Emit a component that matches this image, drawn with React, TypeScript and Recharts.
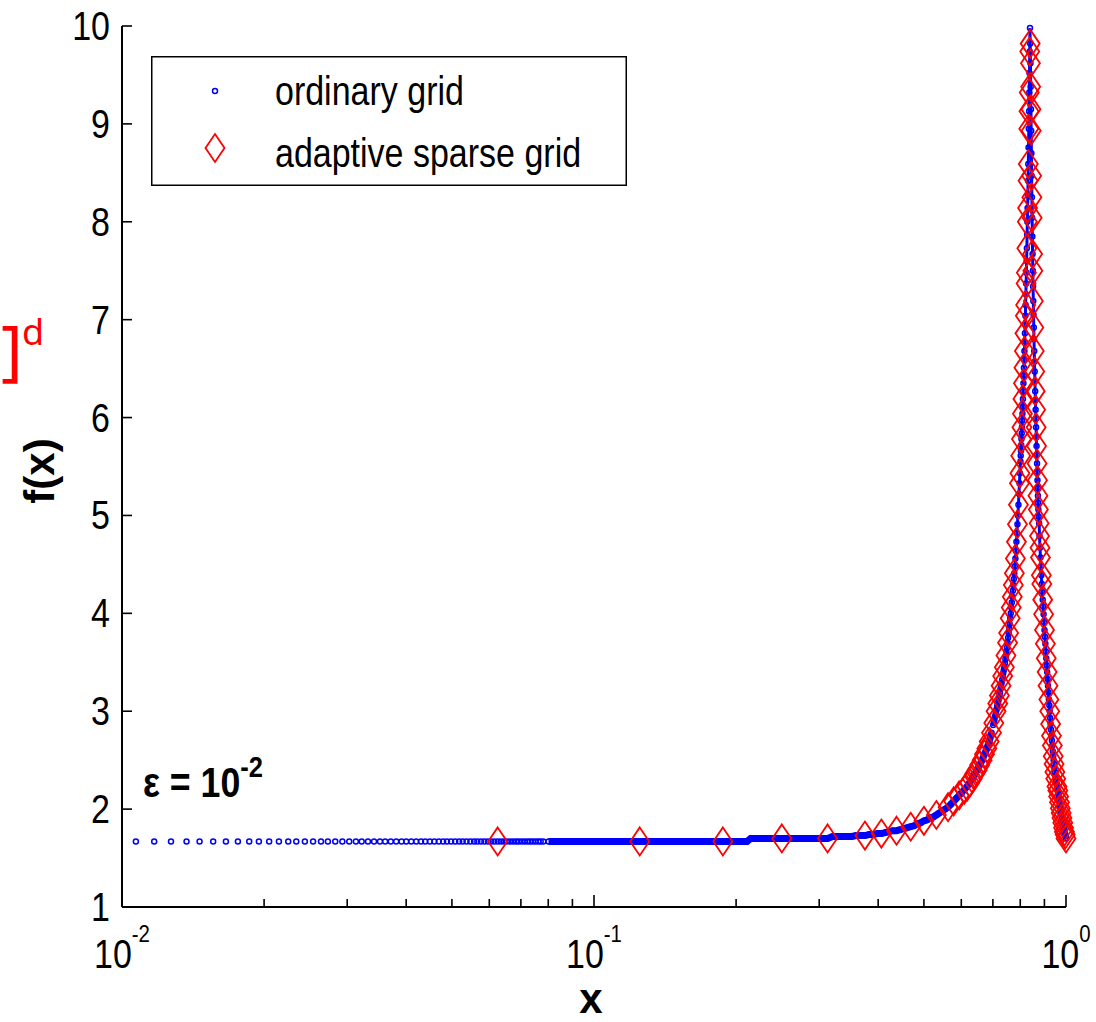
import React from "react";
import { ScatterChart, Scatter, XAxis, YAxis, Legend } from "recharts";

// ordinary grid, sparse part on the left (single circles visible)
const ordinaryTail: [number, number][] = [
  [0.0107, 1.67], [0.0117, 1.67], [0.0127, 1.67], [0.0137, 1.67], [0.0146, 1.67], [0.0156, 1.67],
  [0.0166, 1.67], [0.0176, 1.67], [0.0186, 1.67], [0.0195, 1.67], [0.0205, 1.67], [0.0215, 1.67],
  [0.0225, 1.67], [0.0234, 1.67], [0.0244, 1.67], [0.0254, 1.67], [0.0264, 1.67], [0.0273, 1.67],
  [0.0283, 1.67], [0.0293, 1.67], [0.0303, 1.67], [0.0313, 1.67], [0.0322, 1.67], [0.0332, 1.67],
  [0.0342, 1.67], [0.0352, 1.67], [0.0361, 1.67], [0.0371, 1.67], [0.0381, 1.67], [0.0391, 1.67],
  [0.0400, 1.67], [0.0410, 1.67], [0.0420, 1.67], [0.0430, 1.67], [0.0439, 1.67], [0.0449, 1.67],
  [0.0459, 1.67], [0.0469, 1.67], [0.0479, 1.67], [0.0488, 1.67], [0.0498, 1.67], [0.0508, 1.67],
  [0.0518, 1.67], [0.0527, 1.67], [0.0537, 1.67], [0.0547, 1.67], [0.0557, 1.67], [0.0566, 1.67],
  [0.0576, 1.67], [0.0586, 1.67], [0.0596, 1.67], [0.0605, 1.67], [0.0615, 1.67], [0.0625, 1.67],
  [0.0635, 1.67], [0.0645, 1.67], [0.0654, 1.67], [0.0664, 1.67], [0.0674, 1.67], [0.0684, 1.67],
  [0.0693, 1.67], [0.0703, 1.67], [0.0713, 1.67], [0.0723, 1.67], [0.0732, 1.67], [0.0742, 1.67],
  [0.0752, 1.67], [0.0762, 1.67], [0.0771, 1.67], [0.0781, 1.67],
];

// ordinary grid, dense flat band
const ordinaryBand: [number, number][] = [
  [0.0801, 1.67], [0.0820, 1.67], [0.0840, 1.67], [0.0859, 1.67], [0.0879, 1.67], [0.0898, 1.67],
  [0.0918, 1.67], [0.0938, 1.67], [0.0957, 1.67], [0.0977, 1.67], [0.0996, 1.67], [0.1016, 1.67],
  [0.1035, 1.67], [0.1055, 1.67], [0.1074, 1.67], [0.1094, 1.67], [0.1113, 1.67], [0.1133, 1.67],
  [0.1152, 1.67], [0.1172, 1.67], [0.1191, 1.67], [0.1211, 1.67], [0.1230, 1.67], [0.1250, 1.67],
  [0.1270, 1.67], [0.1289, 1.67], [0.1309, 1.67], [0.1328, 1.67], [0.1348, 1.67], [0.1367, 1.67],
  [0.1387, 1.67], [0.1406, 1.67], [0.1426, 1.67], [0.1445, 1.67], [0.1465, 1.67], [0.1484, 1.67],
  [0.1504, 1.67], [0.1523, 1.67], [0.1543, 1.67], [0.1563, 1.67], [0.1582, 1.67], [0.1602, 1.67],
  [0.1621, 1.67], [0.1641, 1.67], [0.1660, 1.67], [0.1680, 1.67], [0.1699, 1.67], [0.1719, 1.67],
  [0.1738, 1.67], [0.1758, 1.67], [0.1777, 1.67], [0.1797, 1.67], [0.1816, 1.67], [0.1836, 1.67],
  [0.1855, 1.67], [0.1875, 1.67], [0.1895, 1.67], [0.1914, 1.67], [0.1934, 1.67], [0.1953, 1.67],
  [0.1973, 1.67], [0.1992, 1.67], [0.2031, 1.67], [0.2070, 1.67], [0.2109, 1.67], [0.2148, 1.70],
  [0.2188, 1.70], [0.2227, 1.70], [0.2266, 1.70], [0.2305, 1.70], [0.2344, 1.70], [0.2383, 1.70],
  [0.2422, 1.70], [0.2461, 1.70], [0.2500, 1.70], [0.2539, 1.70], [0.2578, 1.70], [0.2617, 1.70],
  [0.2656, 1.70], [0.2695, 1.70], [0.2734, 1.70], [0.2773, 1.70], [0.2813, 1.70], [0.2852, 1.70],
  [0.2891, 1.70], [0.2930, 1.70], [0.2969, 1.70], [0.3008, 1.70], [0.3047, 1.70], [0.3086, 1.70],
  [0.3125, 1.70], [0.3203, 1.72], [0.3281, 1.72], [0.3359, 1.72], [0.3438, 1.72], [0.3516, 1.72],
  [0.3594, 1.73], [0.3672, 1.73], [0.3750, 1.73], [0.3828, 1.74], [0.3906, 1.74], [0.3984, 1.75],
  [0.4063, 1.75], [0.4141, 1.76], [0.4219, 1.77], [0.4297, 1.78], [0.4375, 1.78], [0.4453, 1.79],
  [0.4531, 1.80], [0.4609, 1.81], [0.4688, 1.82], [0.4766, 1.83], [0.4844, 1.85], [0.4922, 1.86],
  [0.5000, 1.88], [0.5078, 1.89], [0.5156, 1.91], [0.5234, 1.92], [0.5313, 1.94], [0.5391, 1.96],
  [0.5469, 1.98], [0.5547, 2.00], [0.5625, 2.02], [0.5703, 2.05], [0.5781, 2.08], [0.5859, 2.11],
  [0.5938, 2.14], [0.6016, 2.17], [0.6094, 2.20], [0.6172, 2.23], [0.6250, 2.27], [0.6328, 2.31],
  [0.6406, 2.36], [0.6484, 2.40], [0.6563, 2.45], [0.6641, 2.50], [0.6719, 2.56], [0.6797, 2.62],
  [0.6875, 2.69], [0.6953, 2.78],
];

// ordinary grid, rising flank and peak
const ordinaryPeak: [number, number][] = [
  [0.7012, 2.86], [0.7031, 2.88], [0.7051, 2.91], [0.7070, 2.94], [0.7090, 2.97], [0.7109, 3.00],
  [0.7129, 3.02], [0.7148, 3.05], [0.7168, 3.08], [0.7188, 3.10], [0.7207, 3.13], [0.7227, 3.16],
  [0.7246, 3.19], [0.7266, 3.23], [0.7285, 3.26], [0.7305, 3.29], [0.7324, 3.32], [0.7344, 3.36],
  [0.7363, 3.39], [0.7383, 3.42], [0.7402, 3.45], [0.7422, 3.49], [0.7441, 3.53], [0.7461, 3.57],
  [0.7480, 3.61], [0.7500, 3.65], [0.7520, 3.70], [0.7539, 3.75], [0.7559, 3.80], [0.7578, 3.84],
  [0.7598, 3.89], [0.7617, 3.95], [0.7637, 4.00], [0.7656, 4.06], [0.7676, 4.11], [0.7695, 4.17],
  [0.7715, 4.23], [0.7734, 4.29], [0.7754, 4.35], [0.7773, 4.41], [0.7793, 4.48], [0.7813, 4.56],
  [0.7832, 4.64], [0.7852, 4.73], [0.7871, 4.82], [0.7891, 4.91], [0.7910, 5.00], [0.7930, 5.11],
  [0.7949, 5.22], [0.7969, 5.33], [0.7988, 5.43],
  [0.8008, 5.55], [0.8018, 5.61], [0.8027, 5.66], [0.8037, 5.72], [0.8047, 5.78], [0.8057, 5.84],
  [0.8066, 5.90], [0.8076, 5.97], [0.8086, 6.04], [0.8096, 6.11], [0.8105, 6.19], [0.8115, 6.27],
  [0.8125, 6.35], [0.8135, 6.43], [0.8145, 6.51], [0.8154, 6.59], [0.8164, 6.68], [0.8174, 6.77],
  [0.8184, 6.86], [0.8193, 6.95], [0.8203, 7.04], [0.8213, 7.15], [0.8223, 7.26], [0.8232, 7.37],
  [0.8242, 7.48], [0.8252, 7.60], [0.8262, 7.73], [0.8271, 7.87], [0.8281, 8.00], [0.8291, 8.14],
  [0.8301, 8.27], [0.8311, 8.42], [0.8320, 8.59], [0.8330, 8.76], [0.8340, 8.95], [0.8350, 9.13],
  [0.8359, 9.32], [0.8369, 9.52], [0.8379, 9.74], [0.8389, 9.98], [0.8398, 9.82], [0.8408, 9.62],
  [0.8418, 9.38], [0.8428, 9.15], [0.8438, 8.93], [0.8447, 8.70], [0.8457, 8.47], [0.8467, 8.25],
  [0.8477, 8.04], [0.8486, 7.85], [0.8496, 7.67], [0.8506, 7.50], [0.8516, 7.34], [0.8525, 7.19],
  [0.8535, 7.05], [0.8545, 6.92], [0.8555, 6.80], [0.8564, 6.68], [0.8574, 6.57], [0.8584, 6.47],
  [0.8594, 6.37], [0.8604, 6.27], [0.8613, 6.18], [0.8623, 6.08], [0.8633, 5.99], [0.8643, 5.90],
  [0.8652, 5.80], [0.8662, 5.71], [0.8672, 5.62], [0.8682, 5.53], [0.8691, 5.44], [0.8701, 5.36],
  [0.8711, 5.28], [0.8721, 5.20], [0.8730, 5.13], [0.8740, 5.06], [0.8750, 4.99],
];

// ordinary grid, falling flank to x = 1
const ordinaryFall: [number, number][] = [
  [0.8770, 4.92], [0.8789, 4.79], [0.8809, 4.67], [0.8828, 4.57], [0.8848, 4.48], [0.8867, 4.39],
  [0.8887, 4.30], [0.8906, 4.22], [0.8926, 4.14], [0.8945, 4.07], [0.8965, 3.99], [0.8984, 3.91],
  [0.9004, 3.83], [0.9023, 3.76], [0.9043, 3.69], [0.9063, 3.61], [0.9082, 3.54], [0.9102, 3.47],
  [0.9121, 3.40], [0.9141, 3.33], [0.9160, 3.26], [0.9180, 3.19], [0.9199, 3.12], [0.9219, 3.06],
  [0.9238, 3.00], [0.9258, 2.93], [0.9277, 2.87], [0.9297, 2.81], [0.9316, 2.75], [0.9336, 2.70],
  [0.9355, 2.65], [0.9375, 2.59], [0.9395, 2.54], [0.9414, 2.50], [0.9434, 2.46], [0.9453, 2.42],
  [0.9473, 2.38], [0.9492, 2.34], [0.9512, 2.31], [0.9531, 2.28], [0.9551, 2.26], [0.9570, 2.23],
  [0.9590, 2.21], [0.9609, 2.19], [0.9629, 2.16], [0.9648, 2.13], [0.9668, 2.10], [0.9688, 2.07],
  [0.9707, 2.04], [0.9727, 2.01], [0.9746, 1.99], [0.9766, 1.96], [0.9785, 1.93], [0.9805, 1.91],
  [0.9824, 1.88], [0.9844, 1.86], [0.9863, 1.84], [0.9883, 1.81], [0.9902, 1.79], [0.9922, 1.77],
  [0.9941, 1.75], [0.9961, 1.74], [0.9980, 1.72], [1.0, 1.70],
];

// adaptive sparse grid: coarse on the flat part
const adaptiveFlat: [number, number][] = [
  [0.0625, 1.67], [0.125, 1.67], [0.1875, 1.67], [0.25, 1.70], [0.3125, 1.70],
  [0.375, 1.73], [0.4063, 1.75], [0.4375, 1.78], [0.4688, 1.82], [0.5, 1.88], [0.5313, 1.94],
  [0.5625, 2.02], [0.5781, 2.08], [0.5938, 2.14], [0.6094, 2.20], [0.6172, 2.23], [0.625, 2.27],
  [0.6328, 2.31], [0.6406, 2.36], [0.6484, 2.40], [0.6563, 2.45], [0.6641, 2.50], [0.6719, 2.56],
  [0.6797, 2.62], [0.6875, 2.69], [0.6953, 2.78],
];

// adaptive sparse grid: refined around the peak
const adaptivePeak: [number, number][] = [
  [0.7031, 2.88], [0.7109, 3.00], [0.7168, 3.08], [0.7227, 3.16], [0.7285, 3.26], [0.7344, 3.36],
  [0.7402, 3.45], [0.7461, 3.57], [0.7520, 3.70], [0.7559, 3.80], [0.7617, 3.95], [0.7656, 4.06],
  [0.7695, 4.17], [0.7734, 4.29], [0.7773, 4.41], [0.7813, 4.56], [0.7852, 4.73], [0.7891, 4.91],
  [0.7930, 5.11], [0.7969, 5.33], [0.7988, 5.43], [0.8018, 5.61], [0.8047, 5.78], [0.8066, 5.90],
  [0.8086, 6.04], [0.8105, 6.19], [0.8125, 6.35], [0.8145, 6.51], [0.8164, 6.68], [0.8184, 6.86],
  [0.8203, 7.04], [0.8213, 7.15], [0.8232, 7.37], [0.8242, 7.48], [0.8262, 7.73], [0.8281, 8.00],
  [0.8291, 8.14], [0.8311, 8.42], [0.8320, 8.59], [0.8340, 8.95], [0.8350, 9.13], [0.8359, 9.32],
  [0.8379, 9.74], [0.8398, 9.82], [0.8408, 9.62], [0.8418, 9.38], [0.8428, 9.15], [0.8438, 8.93],
  [0.8457, 8.47], [0.8467, 8.25], [0.8477, 8.04], [0.8496, 7.67], [0.8506, 7.50], [0.8525, 7.19],
  [0.8545, 6.92], [0.8564, 6.68], [0.8584, 6.47], [0.8604, 6.27], [0.8623, 6.08], [0.8643, 5.90],
  [0.8662, 5.71], [0.8682, 5.53], [0.8701, 5.36], [0.8721, 5.20], [0.8740, 5.06], [0.8770, 4.92],
  [0.8789, 4.79], [0.8809, 4.67], [0.8828, 4.57], [0.8867, 4.39], [0.8887, 4.30], [0.8926, 4.14],
  [0.8965, 3.99], [0.9004, 3.83], [0.9043, 3.69], [0.9082, 3.54], [0.9121, 3.40], [0.9160, 3.26],
  [0.9199, 3.12], [0.9238, 3.00], [0.9277, 2.87], [0.9316, 2.75], [0.9355, 2.65], [0.9395, 2.54],
  [0.9434, 2.46], [0.9473, 2.38], [0.9512, 2.31], [0.9570, 2.23], [0.9609, 2.19], [0.9648, 2.13],
  [0.9688, 2.07], [0.9727, 2.01], [0.9766, 1.96], [0.9805, 1.91], [0.9844, 1.86], [0.9883, 1.81],
  [0.9922, 1.77], [0.9961, 1.74], [1.0, 1.70],
];

const xTicks = [
  0.01, 0.02, 0.03, 0.04, 0.05, 0.06, 0.07, 0.08, 0.09,
  0.1, 0.2, 0.3, 0.4, 0.5, 0.6, 0.7, 0.8, 0.9, 1,
];
const xMajor = [0.01, 0.1, 1];
const xMajorExp = ["-2", "-1", "0"];
const yTicks = [1, 2, 3, 4, 5, 6, 7, 8, 9, 10];

const SANS = "'Liberation Sans', Arial, sans-serif";
const BLUE = "#0000ff";
const RED = "#ff0000";
const SQUEEZE = 0.85; // matlab's raster font is narrow

const toRows = (pts: [number, number][]) => pts.map(([x, y]) => ({ x, y }));
const tailData = toRows(ordinaryTail);
const bandData = toRows(ordinaryBand);
const peakData = toRows([...ordinaryPeak, ...ordinaryFall]);
const adaptiveData = toRows([...adaptiveFlat, ...adaptivePeak]);

// narrow text: regular font squeezed horizontally
const NText = ({ x, y, size, anchor = "start", bold = false, fill = "#000", children }: any) => (
  <text
    transform={`translate(${x},${y}) scale(${SQUEEZE},1)`}
    textAnchor={anchor}
    fontFamily={SANS}
    fontSize={size}
    fontWeight={bold ? "bold" : "normal"}
    fill={fill}
  >
    {children}
  </text>
);

const BlueDot = (p: any) => (
  <circle cx={p.cx} cy={p.cy} r={2.5} fill="none" stroke={BLUE} strokeWidth={1.5} />
);

const diamondPath = (cx: number, cy: number) =>
  `M${cx},${cy - 14}L${cx + 9.5},${cy}L${cx},${cy + 14}L${cx - 9.5},${cy}Z`;

const RedDiamond = (p: any) => (
  <path d={diamondPath(p.cx, p.cy)} fill="none" stroke={RED} strokeWidth={1.8} />
);

const makeXTick = (side: "bottom" | "top") => (props: any) => {
  const { x, y, payload } = props;
  const i = xMajor.indexOf(payload.value);
  const len = i >= 0 ? 12 : 8;
  const dir = side === "top" ? 1 : -1;
  return (
    <g>
      <line x1={x} x2={x} y1={y} y2={y + dir * len} stroke="#000" strokeWidth={1.6} />
      {side === "bottom" && i >= 0 && (
        <NText x={x} y={y + 61} size={40} anchor="middle">
          10
          <tspan dy={-26} fontSize={24}>{xMajorExp[i]}</tspan>
        </NText>
      )}
    </g>
  );
};

const makeYTick = (side: "left" | "right") => (props: any) => {
  const { x, y, payload } = props;
  const dir = side === "right" ? -1 : 1;
  return (
    <g>
      <line x1={x} x2={x + dir * 10} y1={y} y2={y} stroke="#000" strokeWidth={1.6} />
      {side === "left" && (
        <NText x={x - 12} y={y + 14} size={40} anchor="end">
          {payload.value}
        </NText>
      )}
    </g>
  );
};

const LegendBox = () => (
  <svg width={476} height={130} style={{ display: "block" }}>
    <rect x={0.75} y={0.75} width={474.5} height={128.5} fill="#fff" stroke="#000" strokeWidth={1.5} />
    <circle cx={64} cy={35} r={2.5} fill="none" stroke={BLUE} strokeWidth={1.5} />
    <path d={diamondPath(64, 92)} fill="none" stroke={RED} strokeWidth={1.8} />
    <NText x={124} y={49} size={40}>ordinary grid</NText>
    <NText x={124} y={111} size={40}>adaptive sparse grid</NText>
  </svg>
);

const App: React.FC = () => {
  return (
    <div style={{ position: "absolute", left: 0, top: 0, width: 1096, height: 1022, background: "#fff" }}>
      <ScatterChart
        width={1096}
        height={1022}
        margin={{ top: 26, right: 30, bottom: 35, left: 22 }}
      >
        <XAxis
          xAxisId="bottom"
          dataKey="x"
          type="number"
          scale="log"
          domain={[0.01, 1]}
          ticks={xTicks}
          interval={0}
          height={80}
          tickSize={0}
          tickMargin={0}
          tickLine={false}
          axisLine={{ stroke: "#000", strokeWidth: 2 }}
          tick={makeXTick("bottom")}
          label={{
            content: () => (
              <text x={591} y={1013} textAnchor="middle" fontFamily={SANS} fontWeight="bold" fontSize={42} fill="#000">
                x
              </text>
            ),
          }}
        />
        <XAxis
          xAxisId="top"
          orientation="top"
          dataKey="x"
          type="number"
          scale="log"
          domain={[0.01, 1]}
          ticks={xTicks}
          interval={0}
          height={0}
          tickSize={0}
          tickMargin={0}
          tickLine={false}
          axisLine={{ stroke: "#000", strokeWidth: 2 }}
          tick={makeXTick("top")}
        />
        <YAxis
          yAxisId="left"
          dataKey="y"
          type="number"
          domain={[1, 10]}
          ticks={yTicks}
          interval={0}
          width={100}
          tickSize={0}
          tickMargin={0}
          tickLine={false}
          axisLine={{ stroke: "#000", strokeWidth: 2 }}
          tick={makeYTick("left")}
          label={{
            content: () => (
              <text
                x={39}
                y={471}
                transform="rotate(-90, 39, 471)"
                textAnchor="middle"
                dominantBaseline="central"
                fontFamily={SANS}
                fontWeight="bold"
                fontSize={42}
                fill="#000"
              >
                f(x)
              </text>
            ),
          }}
        />
        <YAxis
          yAxisId="right"
          orientation="right"
          dataKey="y"
          type="number"
          domain={[1, 10]}
          ticks={yTicks}
          interval={0}
          width={0}
          tickSize={0}
          tickMargin={0}
          tickLine={false}
          axisLine={{ stroke: "#000", strokeWidth: 2 }}
          tick={makeYTick("right")}
        />
        <Legend
          layout="vertical"
          align="center"
          verticalAlign="middle"
          content={() => <LegendBox />}
          wrapperStyle={{ left: 151, top: 56, width: 476, height: 130 }}
        />
        <Scatter
          name="ordinary grid"
          data={tailData}
          xAxisId="bottom"
          yAxisId="left"
          shape={BlueDot}
          isAnimationActive={false}
        />
        <Scatter
          name="ordinary grid band"
          data={bandData}
          xAxisId="bottom"
          yAxisId="left"
          shape={BlueDot}
          line={{ stroke: BLUE, strokeWidth: 7 }}
          legendType="none"
          isAnimationActive={false}
        />
        <Scatter
          name="ordinary grid peak"
          data={peakData}
          xAxisId="bottom"
          yAxisId="left"
          shape={BlueDot}
          line={{ stroke: BLUE, strokeWidth: 3 }}
          legendType="none"
          isAnimationActive={false}
        />
        <Scatter
          name="adaptive sparse grid"
          data={adaptiveData}
          xAxisId="top"
          yAxisId="right"
          shape={RedDiamond}
          isAnimationActive={false}
        />
      </ScatterChart>
      <svg
        width={1096}
        height={1022}
        style={{ position: "absolute", left: 0, top: 0, pointerEvents: "none" }}
      >
        <NText x={143} y={797} size={42} bold>
          ε = 10
          <tspan dy={-20} fontSize={30}>-2</tspan>
        </NText>
        <text x={1} y={373} fontFamily="'Noto Sans', sans-serif" fontSize={66} fill={RED}>]</text>
        <text x={22} y={345} fontFamily="'Noto Sans', sans-serif" fontSize={36} fill={RED}>d</text>
      </svg>
    </div>
  );
};

export default App;
